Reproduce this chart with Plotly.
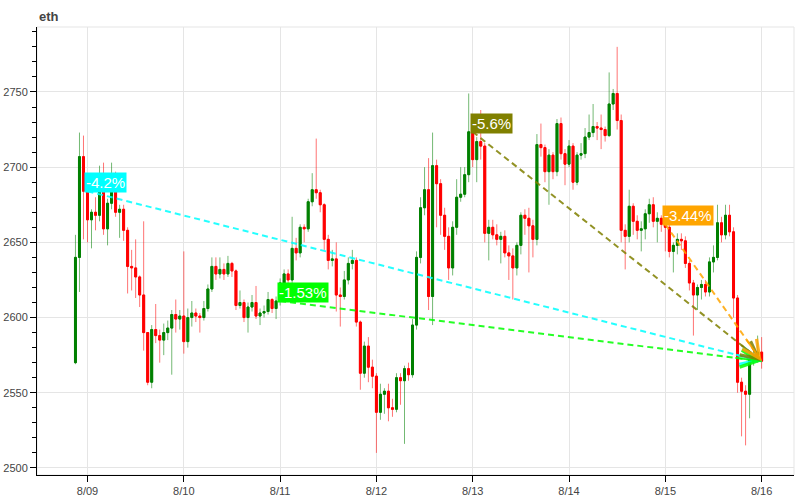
import math
import pandas as pd
import plotly.graph_objects as go

# ---------------- data (hourly ETH candles) ----------------
start_time = "2024-08-08 21:00"
first_open = 2570
closes = [
    2640, 2707, 2684, 2665, 2670, 2668, 2687, 2659, 2676, 2688,
    2670, 2672, 2658, 2634, 2633, 2627, 2615, 2590, 2557, 2592,
    2588, 2585, 2590, 2593, 2602, 2599, 2601, 2584, 2600, 2603,
    2601, 2600, 2606, 2619, 2634, 2629, 2632, 2629, 2636, 2631,
    2608, 2610, 2600, 2607, 2610, 2601, 2603, 2604, 2612, 2606,
    2611, 2623, 2629, 2625, 2646, 2643, 2660, 2659, 2677, 2685,
    2683, 2675, 2652, 2638, 2639, 2615, 2614, 2625, 2636, 2638,
    2597, 2563, 2581, 2567, 2561, 2537, 2549, 2551, 2540, 2539,
    2560, 2558, 2566, 2562, 2595, 2640, 2673, 2685, 2614, 2701,
    2689, 2668, 2654, 2633, 2660, 2680, 2682, 2695, 2723.5, 2705,
    2717, 2714, 2656, 2660, 2655, 2652, 2654, 2643, 2641, 2633,
    2648, 2668, 2666, 2661, 2652, 2715, 2713, 2697, 2708, 2697,
    2729, 2709, 2702, 2714, 2690, 2708, 2709, 2720, 2723, 2727,
    2726, 2725, 2721, 2742, 2749, 2731, 2658, 2654, 2674, 2664,
    2658, 2659, 2669, 2675, 2664, 2666, 2662, 2660, 2644, 2648,
    2652, 2651, 2636, 2623, 2615, 2620, 2622, 2617, 2637, 2640,
    2663, 2655, 2668, 2657, 2613, 2557, 2551, 2549, 2572, 2575,
    2577, 2571,
]
highs = [
    2655, 2723, 2721, 2684, 2672, 2680, 2701, 2703, 2679, 2703,
    2697, 2675, 2675, 2660, 2645, 2652, 2628, 2664, 2590, 2595,
    2609, 2592, 2596, 2598, 2605, 2612, 2605, 2644, 2606, 2611,
    2606, 2603, 2611, 2622, 2640, 2640, 2640, 2636, 2641, 2637,
    2632, 2618, 2612, 2610, 2615, 2621, 2606, 2608, 2617, 2613,
    2614, 2626, 2632, 2632, 2667, 2653, 2662, 2662, 2679, 2696,
    2719, 2685, 2676, 2655, 2645, 2650, 2620, 2631, 2640, 2645,
    2640, 2598, 2584, 2587, 2572, 2563, 2556, 2553, 2556, 2546,
    2563, 2563, 2568, 2570, 2599, 2644, 2680, 2700, 2706, 2723,
    2705, 2692, 2673, 2660, 2664, 2692, 2700, 2700, 2749, 2727,
    2720, 2738, 2716, 2665, 2665, 2662, 2657, 2658, 2648, 2646,
    2650, 2670, 2672, 2673, 2665, 2722, 2729, 2715, 2712, 2710,
    2732, 2733, 2712, 2718, 2716, 2710, 2716, 2726, 2735, 2742,
    2730, 2735, 2727, 2763, 2752, 2780, 2735, 2662, 2685, 2676,
    2668, 2664, 2672, 2679, 2680, 2670, 2668, 2665, 2662, 2650,
    2656, 2656, 2654, 2638, 2625, 2622, 2625, 2625, 2640, 2648,
    2675, 2667, 2675, 2675, 2660, 2615, 2560, 2555, 2576, 2580,
    2588, 2587,
]
lows = [
    2569, 2617, 2652, 2650, 2646, 2658, 2664, 2655, 2648, 2672,
    2667, 2653, 2651, 2616, 2618, 2613, 2607, 2578, 2555, 2553,
    2583, 2570, 2575, 2585, 2562, 2590, 2592, 2576, 2580, 2594,
    2597, 2590, 2598, 2604, 2617, 2625, 2626, 2625, 2627, 2627,
    2605, 2606, 2597, 2590, 2604, 2599, 2595, 2600, 2602, 2603,
    2599, 2608, 2621, 2620, 2623, 2638, 2640, 2650, 2657, 2674,
    2679, 2670, 2645, 2632, 2634, 2604, 2594, 2612, 2622, 2632,
    2594, 2552, 2560, 2557, 2553, 2510, 2532, 2536, 2531, 2534,
    2537, 2542, 2516, 2558, 2560, 2592, 2636, 2668, 2605, 2595,
    2660, 2655, 2645, 2625, 2628, 2655, 2677, 2680, 2690, 2700,
    2690, 2705, 2650, 2638, 2652, 2648, 2636, 2640, 2625, 2612,
    2628, 2642, 2655, 2630, 2640, 2648, 2707, 2690, 2675, 2692,
    2694, 2705, 2688, 2700, 2685, 2688, 2705, 2706, 2718, 2720,
    2718, 2712, 2717, 2720, 2738, 2725, 2650, 2632, 2650, 2655,
    2652, 2644, 2652, 2663, 2660, 2650, 2657, 2644, 2640, 2630,
    2642, 2645, 2633, 2618, 2588, 2605, 2612, 2614, 2614, 2630,
    2638, 2650, 2652, 2654, 2600, 2550, 2521, 2515, 2533, 2568,
    2570, 2566,
]

# trend annotations: from the open of each listed hour to the last close
trend_starts = ["2024-08-09 00:00", "2024-08-11 00:00", "2024-08-13 00:00", "2024-08-15 00:00"]
trend_labels = ["-4.2%", "-1.53%", "-5.6%", "-3.44%"]
trend_colors = ["#00ffff", "#00ff00", "#808000", "#ffa500"]

tick_dates = ["2024-08-09", "2024-08-10", "2024-08-11", "2024-08-12",
              "2024-08-13", "2024-08-14", "2024-08-15", "2024-08-16"]
tick_text = ["8/09", "8/10", "8/11", "8/12", "8/13", "8/14", "8/15", "8/16"]

x_range = ["2024-08-08 11:25", "2024-08-16 08:04"]
y_range = [2495.3, 2793.2]

# ---------------- derived ----------------
times = pd.date_range(start_time, periods=len(closes), freq="h")
opens = [first_open] + closes[:-1]
highs = [max(h, o, c) for h, o, c in zip(highs, opens, closes)]
lows = [min(l, o, c) for l, o, c in zip(lows, opens, closes)]
body_hi = [max(o, c) for o, c in zip(opens, closes)]
body_lo = [min(o, c) for o, c in zip(opens, closes)]

W, H = 800, 500
ML, MR, MT, MB = 37, 6, 27, 25
pw, ph = W - ML - MR, H - MT - MB
xr0, xr1 = pd.Timestamp(x_range[0]), pd.Timestamp(x_range[1])
px_per_hour = pw / ((xr1 - xr0).total_seconds() / 3600)
px_per_unit = ph / (y_range[1] - y_range[0])

fig = go.Figure()

# wicks (lighter)
fig.add_trace(go.Candlestick(
    x=times, open=opens, high=highs, low=lows, close=closes,
    increasing=dict(line=dict(color="rgba(0,128,0,0.55)", width=1), fillcolor="rgba(0,128,0,0.55)"),
    decreasing=dict(line=dict(color="rgba(255,0,0,0.55)", width=1), fillcolor="rgba(255,0,0,0.55)"),
    whiskerwidth=0, hoverinfo="skip", showlegend=False,
))
# bodies (solid)
fig.add_trace(go.Candlestick(
    x=times, open=opens, high=body_hi, low=body_lo, close=closes,
    increasing=dict(line=dict(color="#008000", width=1), fillcolor="#008000"),
    decreasing=dict(line=dict(color="#ff0000", width=1), fillcolor="#ff0000"),
    whiskerwidth=0, hoverinfo="skip", showlegend=False,
))

end_t = times[-1]
end_p = closes[-1]
annotations = []
for st, lab, col in zip(trend_starts, trend_labels, trend_colors):
    t0 = pd.Timestamp(st)
    idx = list(times).index(t0)
    p0 = opens[idx]
    fig.add_trace(go.Scatter(
        x=[t0, end_t], y=[p0, end_p], mode="lines",
        line=dict(color=col, width=2, dash="6px,4px"), opacity=0.85,
        hoverinfo="skip", showlegend=False,
    ))
    annotations.append(dict(
        x=t0, y=p0, xref="x", yref="y", text=lab, showarrow=False,
        xanchor="left", yanchor="bottom", xshift=-3, yshift=-2,
        bgcolor=col, borderpad=1,
        font=dict(family="Liberation Sans, Arial", size=15, color="white"),
    ))
    dxp = (t0 - end_t).total_seconds() / 3600 * px_per_hour
    dyp = (end_p - p0) * px_per_unit
    L = math.hypot(dxp, dyp)
    annotations.append(dict(
        x=end_t, y=end_p, xref="x", yref="y", text="", showarrow=True,
        ax=dxp / L * 28, ay=dyp / L * 28, axref="pixel", ayref="pixel",
        arrowhead=5, arrowsize=1.7, arrowwidth=2, arrowcolor=col, opacity=0.85,
    ))

annotations.append(dict(
    x=0, y=1, xref="paper", yref="paper", text="<b>eth</b>", showarrow=False,
    xanchor="left", yanchor="bottom", yshift=1, xshift=0,
    font=dict(family="Liberation Sans, Arial", size=13, color="#444444"),
))

fig.update_layout(
    width=W, height=H,
    margin=dict(l=ML, r=MR, t=MT, b=MB, autoexpand=False),
    paper_bgcolor="white", plot_bgcolor="white",
    annotations=annotations,
    hovermode=False,
    font=dict(family="Liberation Sans, Arial", size=11, color="#444444"),
    shapes=[dict(type="rect", xref="paper", yref="paper", x0=0, y0=0, x1=1, y1=1,
                 line=dict(color="#e5e5e5", width=1), layer="below")],
)
fig.update_xaxes(
    type="date", range=x_range, rangeslider=dict(visible=False),
    tickvals=tick_dates, ticktext=tick_text, automargin=False,
    showgrid=True, gridcolor="#e5e5e5", gridwidth=1,
    showline=True, linecolor="black", linewidth=1,
    ticks="outside", ticklen=6, tickcolor="black",
    zeroline=False,
)
fig.update_yaxes(
    range=y_range, dtick=50, tick0=2500, automargin=False,
    showgrid=True, gridcolor="#e5e5e5", gridwidth=1,
    showline=True, linecolor="black", linewidth=1,
    ticks="outside", ticklen=6, tickcolor="black",
    minor=dict(dtick=10, ticks="outside", ticklen=4, tickcolor="black", showgrid=False),
    zeroline=False,
)

# remove the default 8px page margin so the 800x500 figure fills the window
fig.write_html("out.html", config={"displayModeBar": False},
               post_script="document.body.style.margin='0';")
